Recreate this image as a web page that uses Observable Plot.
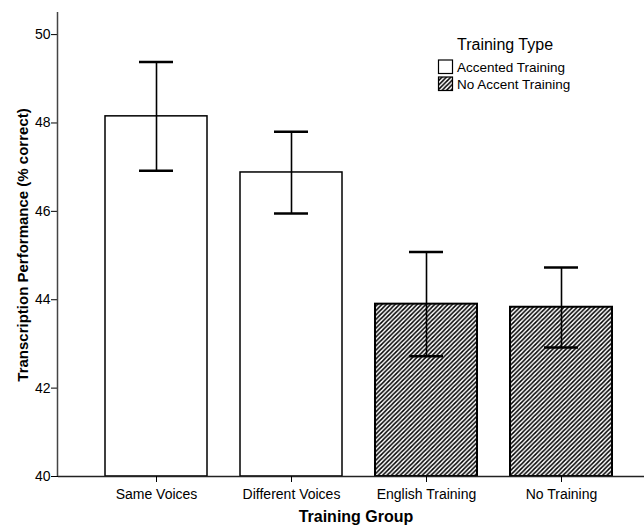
<!DOCTYPE html>
<html>
<head>
<meta charset="utf-8">
<script src="https://cdn.jsdelivr.net/npm/d3@7"></script>
<script src="https://cdn.jsdelivr.net/npm/@observablehq/plot@0.6"></script>
<style>
  html, body { margin: 0; padding: 0; background: white; }
  #chart svg { display: block; }
</style>
</head>
<body>
<div id="chart"></div>
<script>
// Transcription performance by training group (means with 95% CI)
const groups = ["Same Voices", "Different Voices", "English Training", "No Training"];
const trainingType = ["Accented Training", "Accented Training", "No Accent Training", "No Accent Training"];
const meanPct = [48.15, 46.88, 43.90, 43.83];
const ciLower = [46.92, 45.95, 42.72, 42.92];
const ciUpper = [49.38, 47.80, 45.08, 44.73];
const yTicks = [40, 42, 44, 46, 48, 50];
const legendTypes = ["Accented Training", "No Accent Training"];

const rows = groups.map((g, i) => ({
  group: g, type: trainingType[i], mean: meanPct[i], lo: ciLower[i], hi: ciUpper[i]
}));

const font = "'Liberation Sans', Arial, sans-serif";

const chart = Plot.plot({
  width: 644,
  height: 525,
  marginLeft: 58,
  marginRight: 0,
  marginTop: 12,
  marginBottom: 49,
  style: {fontFamily: font, background: "white", color: "black"},
  x: {domain: groups, range: [58, 659.6], paddingInner: 0.2456, paddingOuter: 0.3476, label: null},
  y: {domain: [40, 50.5], label: null},
  marks: [
    Plot.barY(rows.filter(d => d.type === legendTypes[0]), {
      x: "group", y1: 40, y2: "mean", fill: "white", stroke: "black", strokeWidth: 1.5
    }),
    Plot.barY(rows.filter(d => d.type === legendTypes[1]), {
      x: "group", y1: 40, y2: "mean", fill: "url(#diag-hatch)", stroke: "black", strokeWidth: 2
    }),
    // error bars
    Plot.ruleX(rows, {x: "group", y1: "lo", y2: "hi", stroke: "black", strokeWidth: 1.6}),
    Plot.tickY(rows, {x: "group", y: "lo", insetLeft: 34, insetRight: 34, stroke: "black", strokeWidth: 2.5}),
    Plot.tickY(rows, {x: "group", y: "hi", insetLeft: 34, insetRight: 34, stroke: "black", strokeWidth: 2.5}),
    Plot.ruleY([40], {stroke: "#222", strokeWidth: 1.5}),
    Plot.axisY({ticks: yTicks, tickSize: 7, tickPadding: 1, fontSize: 14, label: null}),
    Plot.axisX({tickSize: 6, tickPadding: 7, fontSize: 14, label: null})
  ]
});

document.getElementById("chart").append(chart);

const svg = d3.select(chart);
const y = chart.scale("y");

// diagonal hatch fill
const step = 4.4;
const defs = svg.insert("defs", ":first-child");
const pat = defs.append("pattern")
  .attr("id", "diag-hatch")
  .attr("patternUnits", "userSpaceOnUse")
  .attr("width", step)
  .attr("height", step);
pat.append("rect").attr("width", step).attr("height", step).attr("fill", "white");
pat.append("path")
  .attr("d", `M-1,1 L1,-1 M0,${step} L${step},0 M${step - 1},${step + 1} L${step + 1},${step - 1}`)
  .attr("stroke", "black")
  .attr("stroke-width", 1.5);

// vertical axis line
svg.append("line")
  .attr("x1", 57.5).attr("x2", 57.5)
  .attr("y1", y.apply(50.5)).attr("y2", y.apply(40))
  .attr("stroke", "#444").attr("stroke-width", 1.5);

// axis titles
svg.append("text")
  .attr("transform", `translate(23,${(y.apply(40) + y.apply(50.5)) / 2 + 1}) rotate(-90)`)
  .attr("text-anchor", "middle")
  .attr("dy", "0.35em")
  .style("font", `bold 15px ${font}`)
  .text("Transcription Performance (% correct)");

svg.append("text")
  .attr("x", 356).attr("y", 522)
  .attr("text-anchor", "middle")
  .style("font", `bold 16px ${font}`)
  .text("Training Group");

// legend
const lg = svg.append("g").style("font-family", font).attr("text-anchor", "start");
lg.append("text").attr("x", 457).attr("y", 50).style("font-size", "16px").text("Training Type");
legendTypes.forEach((t, i) => {
  const yy = 60 + i * 17;
  lg.append("rect")
    .attr("x", 438.5).attr("y", yy)
    .attr("width", 14).attr("height", 13.5)
    .attr("fill", i === 0 ? "white" : "url(#diag-hatch)")
    .attr("stroke", "black").attr("stroke-width", 1.2);
  lg.append("text")
    .attr("x", 457).attr("y", yy + 12)
    .style("font-size", "13.5px")
    .text(t);
});
</script>
</body>
</html>
